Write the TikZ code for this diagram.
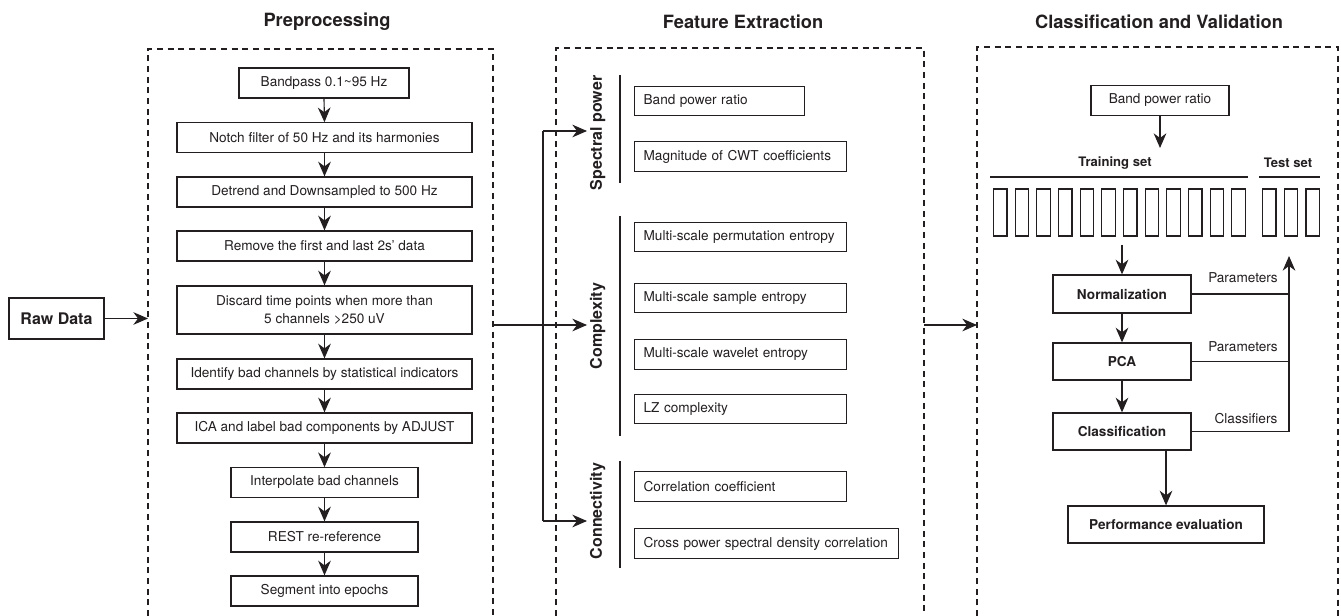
\documentclass[tikz,border=0pt]{standalone}
\usepackage{fontspec}
\setmainfont{TeX Gyre Heros}
\usetikzlibrary{arrows.meta,calc}
\definecolor{ink}{HTML}{231F20}
\begin{document}
\begin{tikzpicture}[x=0.75pt,y=-0.75pt,
  box/.style={draw=ink,line width=0.95pt,inner sep=0pt,text=ink,font=\fontsize{10.2}{13}\selectfont,align=center},
  lbox/.style={box,anchor=west,inner xsep=6.75pt,inner ysep=0pt,align=left,minimum height=22pt},
  bbox/.style={box,font=\fontsize{10.2}{12}\selectfont\bfseries},
  ttl/.style={font=\fontsize{13.7}{16}\selectfont\bfseries,text=ink},
  grp/.style={rotate=90,anchor=north,inner sep=2pt,font=\fontsize{12}{14}\selectfont\bfseries,text=ink},
  lab/.style={font=\fontsize{10.2}{12}\selectfont,text=ink,inner sep=0pt},
  setlab/.style={font=\fontsize{9.8}{12}\selectfont\bfseries,text=ink,inner sep=0pt},
  arr/.style={draw=ink,line width=0.85pt,-{Stealth[length=11pt,width=9.5pt,inset=3.5pt]}},
  ln/.style={draw=ink,line width=0.85pt},
  bar/.style={draw=ink,line width=0.85pt},
  dsh/.style={draw=ink,line width=0.9pt,dash pattern=on 4.5pt off 3.5pt},
]
\useasboundingbox (0,0) rectangle (1341,616);

% titles
\node[ttl] (t1) at (327,22) {Preprocessing};
\node[ttl] (t2) at (743,22) {Feature Extraction};
\node[ttl] (t3) at (1159,22) {Classification and Validation};

% dashed panels
\draw[dsh] (148,616) -- (148,49) -- (493,49) -- (493,616);
\draw[dsh] (556,616) -- (556,48) -- (924,48) -- (924,616);
\draw[dsh] (977,616) -- (977,47) -- (1338,47) -- (1338,616);

% preprocessing column
\node[box,minimum width=127.5pt,minimum height=22.5pt] (p1) at (324,83) {Bandpass 0.1\textasciitilde95 Hz};
\node[box,minimum width=221.25pt,minimum height=22pt] (p2) at (324.5,137.5) {Notch filter of 50 Hz and its harmonies};
\node[box,minimum width=221.25pt,minimum height=22.5pt] (p3) at (324.5,192) {Detrend and Downsampled to 500 Hz};
\node[box,minimum width=221.25pt,minimum height=22.5pt] (p4) at (324.5,246) {Remove the first and last 2s’ data};
\node[box,minimum width=221.25pt,minimum height=36pt] (p5) at (324.5,310) {Discard time points when more than\\5 channels >250 uV};
\node[box,minimum width=221.25pt,minimum height=22.5pt] (p6) at (324.5,374) {Identify bad channels by statistical indicators};
\node[box,minimum width=221.25pt,minimum height=22.5pt] (p7) at (324.5,428) {ICA and label bad components by ADJUST};
\node[box,minimum width=140.25pt,minimum height=22pt] (p8) at (324.5,482.5) {Interpolate bad channels};
\node[box,minimum width=140.25pt,minimum height=22.5pt] (p9) at (324.5,537) {REST re-reference};
\node[box,minimum width=140.25pt,minimum height=22.5pt] (p10) at (324.5,591) {Segment into epochs};
\foreach \a/\b in {p1/p2,p2/p3,p3/p4,p4/p5,p5/p6,p6/p7,p7/p8,p8/p9,p9/p10}
  \draw[arr] (\a.south) -- (\b.north);

% raw data
\node[bbox,font=\fontsize{12}{14}\selectfont\bfseries,minimum width=71.25pt,minimum height=30.75pt] (raw) at (56.5,318.5) {Raw Data};
\coordinate (preIn) at (148,318.5);
\draw[arr] (raw.east) -- (preIn);

% feature extraction
\node[lbox,text width=114pt] (f1) at (634,101) {Band power ratio};
\node[lbox,text width=145.5pt] (f2) at (634,156.5) {Magnitude of CWT coefficients};
\node[lbox,text width=145.5pt] (f3) at (634,237) {Multi-scale permutation entropy};
\node[lbox,text width=145.5pt] (f4) at (634,298) {Multi-scale sample entropy};
\node[lbox,text width=145.5pt] (f5) at (634,354.5) {Multi-scale wavelet entropy};
\node[lbox,text width=145.5pt] (f6) at (634,409) {LZ complexity};
\node[lbox,text width=145.5pt] (f7) at (634,486.5) {Correlation coefficient};
\node[lbox,text width=184.5pt] (f8) at (634,543.5) {Cross power spectral density correlation};

\draw[ln] (620,75) -- (620,183);
\draw[ln] (620,216) -- (620,436);
\draw[ln] (620,461) -- (620,568);

\node[grp] (gs) at (587,133) {Spectral power};
\node[grp] (gc) at (587,326) {Complexity};
\node[grp] (gn) at (587,511) {Connectivity};

\coordinate (preOut) at (493,325);
\coordinate (jS) at (543,131);
\coordinate (jM) at (543,325);
\coordinate (jC) at (543,521);
\draw[ln] (jS) -- (jC);
\draw[arr] (preOut) -- (gc.north |- jM);
\draw[arr] (jS) -- (gs.north |- jS);
\draw[arr] (jC) -- (gn.north |- jC);

% classification and validation
\coordinate (midOut) at (924,325);
\coordinate (clsIn) at (977,325);
\draw[arr] (midOut) -- (clsIn);

\node[box,minimum width=103.5pt,minimum height=22pt] (c0) at (1160,100.5) {Band power ratio};
\coordinate (c0t) at (1160,148);
\draw[arr] (c0.south) -- (c0t);

\node[setlab] (trs) at (1115,163) {Training set};
\node[setlab] (tst) at (1288,163) {Test set};
\draw[ln] (990,177) -- (1248,177);
\draw[ln] (1259,177) -- (1320,177);
\foreach \i in {0,...,11}
  \draw[bar] ({993.5+21.67*\i},189) rectangle ++(13.5,47);
\foreach \xx in {1262.5,1284.3,1306}
  \draw[bar] (\xx,189) rectangle ++(13.5,47);

\node[bbox,minimum width=103.5pt,minimum height=28.5pt] (c1) at (1122,294) {Normalization};
\node[bbox,minimum width=103.5pt,minimum height=27.75pt] (c2) at (1122,361.5) {PCA};
\node[bbox,minimum width=103.5pt,minimum height=27.75pt] (c3) at (1122,431.5) {Classification};
\node[bbox,minimum width=147pt,minimum height=27.75pt] (c4) at (1166,524.5) {Performance evaluation};

\coordinate (barsOut) at (1122,245);
\draw[arr] (barsOut) -- (c1.north);
\draw[arr] (c1.south) -- (c2.north);
\draw[arr] (c2.south) -- (c3.north);
\draw[arr] (c4.north |- c3.south) -- (c4.north);

\coordinate (fbTop) at (1289,256);
\draw[ln] (c1.east) -- (c1.east -| fbTop);
\draw[ln] (c2.east) -- (c2.east -| fbTop);
\draw[arr] (c3.east) -| (fbTop);

\node[lab] (l1) at (1243,278) {Parameters};
\node[lab] (l2) at (1243,347) {Parameters};
\node[lab] (l3) at (1246,419) {Classifiers};
\end{tikzpicture}
\end{document}
